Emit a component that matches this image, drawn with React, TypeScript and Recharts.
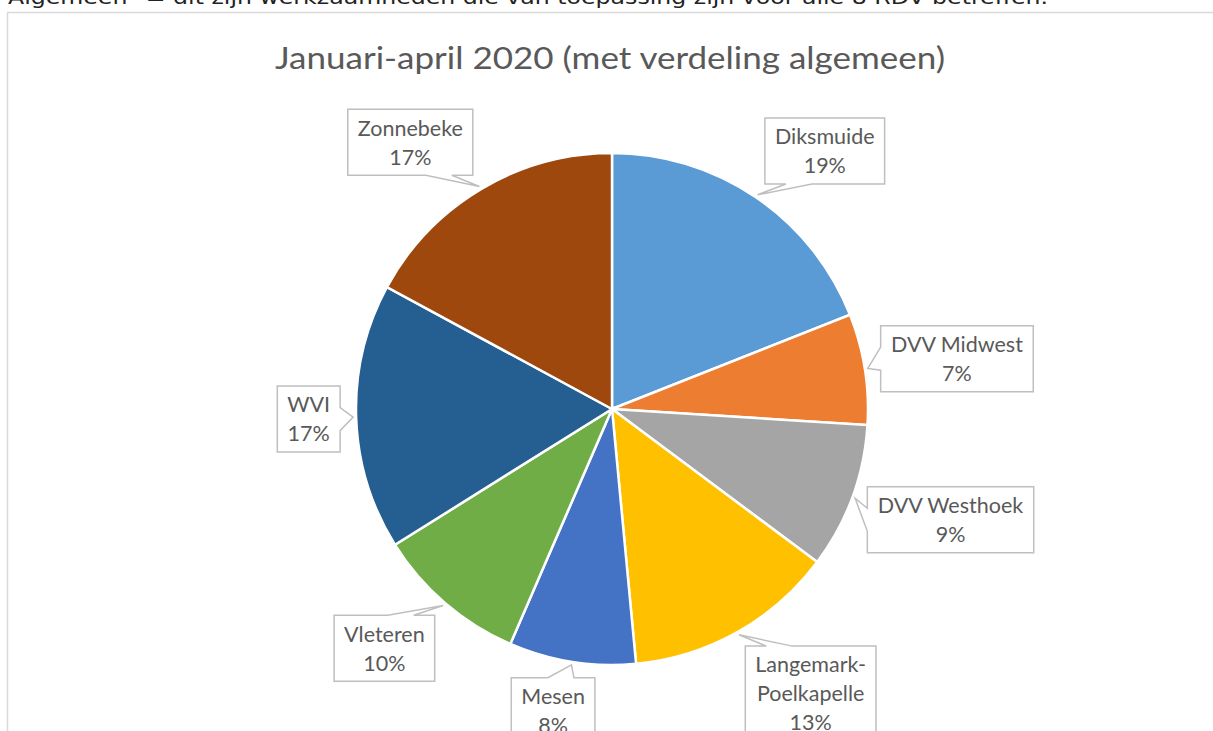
import React from 'react';
import { PieChart, Pie, Cell } from 'recharts';

const categories = [
  'Diksmuide',
  'DVV Midwest',
  'DVV Westhoek',
  'Langemark-Poelkapelle',
  'Mesen',
  'Vleteren',
  'WVI',
  'Zonnebeke',
];
const values = [19.0, 7.0, 9.2, 13.3, 8.0, 9.6, 16.8, 17.1];
const colors = ['#5B9BD5', '#ED7D31', '#A5A5A5', '#FFC000', '#4472C4', '#70AD47', '#255E91', '#9E480E'];
const title = 'Januari-april 2020 (met verdeling algemeen)';
const noteText = 'Algemeen" = dit zijn werkzaamheden die van toepassing zijn voor alle 8 RDV betreffen.';

const data = categories.map((name, i) => ({ name, value: values[i] }));

const W = 1213;
const H = 731;
const RAD = Math.PI / 180;
const LABEL_FONT = 'Lato, "Open Sans", sans-serif';
const FS = 21.5;
const LH = 29;

let ctx: CanvasRenderingContext2D | null = null;
function measure(text: string): number {
  if (!ctx) ctx = document.createElement('canvas').getContext('2d');
  if (!ctx) return text.length * FS * 0.5;
  ctx.font = `${FS}px Lato`;
  return ctx.measureText(text).width;
}

function splitName(name: string): string[] {
  const i = name.indexOf('-');
  if (i > 0) return [name.slice(0, i + 1), name.slice(i + 1)];
  return [name];
}

const clamp1 = (v: number) => Math.max(-1, Math.min(1, v));

function renderLabel(props: any) {
  const { cx, cy, midAngle, outerRadius, percent, name, index } = props;
  const ux = Math.cos(-midAngle * RAD);
  const uy = Math.sin(-midAngle * RAD);
  const lines = [...splitName(String(name)), `${Math.round(percent * 100)}%`];
  const padX = 10;
  const padY = 4;
  const tw = Math.max(...lines.map((l) => measure(l)));
  const w = tw + 2 * padX;
  const h = lines.length * LH + 2 * padY;
  const ar = outerRadius + 16;
  const ax = cx + ar * ux;
  const ay = cy + ar * uy;
  const bcx = ax + (clamp1(ux * 2.5) * w) / 2;
  const bcy = ay + (clamp1(uy * 1.5) * h) / 2;
  const x0 = bcx - w / 2;
  const x1 = bcx + w / 2;
  const y0 = bcy - h / 2;
  const y1 = bcy + h / 2;
  const tr = outerRadius + 3;
  const tx = cx + tr * ux;
  const ty = cy + tr * uy;
  const ndx = (tx - bcx) / (w / 2);
  const ndy = (ty - bcy) / (h / 2);
  let edge: 'top' | 'bottom' | 'left' | 'right';
  if (Math.abs(ndx) > Math.abs(ndy)) edge = ndx < 0 ? 'left' : 'right';
  else edge = ndy < 0 ? 'top' : 'bottom';
  const base = (start: number, end: number, t: number) => {
    const len = end - start;
    const m = Math.min(34, len / 2);
    const c = Math.max(start + m, Math.min(end - m, t));
    const half = Math.min(26, len * 0.35) / 2;
    return [c - half, c + half];
  };
  let d = `M${x0},${y0}`;
  if (edge === 'top') {
    const [b0, b1] = base(x0, x1, tx);
    d += ` L${b0},${y0} L${tx},${ty} L${b1},${y0}`;
  }
  d += ` L${x1},${y0}`;
  if (edge === 'right') {
    const [b0, b1] = base(y0, y1, ty);
    d += ` L${x1},${b0} L${tx},${ty} L${x1},${b1}`;
  }
  d += ` L${x1},${y1}`;
  if (edge === 'bottom') {
    const [b0, b1] = base(x0, x1, tx);
    d += ` L${b1},${y1} L${tx},${ty} L${b0},${y1}`;
  }
  d += ` L${x0},${y1}`;
  if (edge === 'left') {
    const [b0, b1] = base(y0, y1, ty);
    d += ` L${x0},${b1} L${tx},${ty} L${x0},${b0}`;
  }
  d += ' Z';
  const firstY = bcy - ((lines.length - 1) * LH) / 2 + FS * 0.36;
  return (
    <g key={`lbl-${index}`}>
      <path d={d} fill="#FFFFFF" stroke="#BFBFBF" strokeWidth={1.5} />
      <text
        x={bcx}
        y={firstY}
        textAnchor="middle"
        fill="#595959"
        fontSize={FS}
        fontFamily={LABEL_FONT}
      >
        {lines.map((l, i) => (
          <tspan key={i} x={bcx} dy={i === 0 ? 0 : LH}>
            {l}
          </tspan>
        ))}
      </text>
    </g>
  );
}

export default function App() {
  return (
    <div
      style={{
        position: 'absolute',
        left: 0,
        top: 0,
        width: W,
        height: H,
        overflow: 'hidden',
        background: '#FFFFFF',
      }}
    >
      <svg
        width={W}
        height={H}
        style={{ position: 'absolute', left: 0, top: 0 }}
      >
        <rect x={7.5} y={12.5} width={W + 20} height={H + 20} fill="#FFFFFF" stroke="#D9D9D9" strokeWidth={1.5} />
        <text
          x={8}
          y={4}
          fontSize={19}
          fill="#222222"
          fontFamily='"DejaVu Sans", sans-serif'
          textLength={1040}
          lengthAdjust="spacingAndGlyphs"
        >
          {noteText}
        </text>
        <text
          x={610}
          y={69}
          textAnchor="middle"
          fontSize={31.5}
          fill="#595959"
          fontFamily={LABEL_FONT}
          textLength={670}
          lengthAdjust="spacingAndGlyphs"
        >
          {title}
        </text>
      </svg>
      <div style={{ position: 'absolute', left: 0, top: 0 }}>
        <PieChart width={W} height={H} margin={{ top: 0, right: 0, bottom: 0, left: 0 }}>
          <Pie
            data={data}
            dataKey="value"
            nameKey="name"
            cx={612}
            cy={409}
            outerRadius={256}
            startAngle={90}
            endAngle={-270}
            stroke="#FFFFFF"
            strokeWidth={2.5}
            label={renderLabel}
            labelLine={false}
            isAnimationActive={false}
          >
            {data.map((d, i) => (
              <Cell key={d.name} fill={colors[i]} />
            ))}
          </Pie>
        </PieChart>
      </div>
    </div>
  );
}
